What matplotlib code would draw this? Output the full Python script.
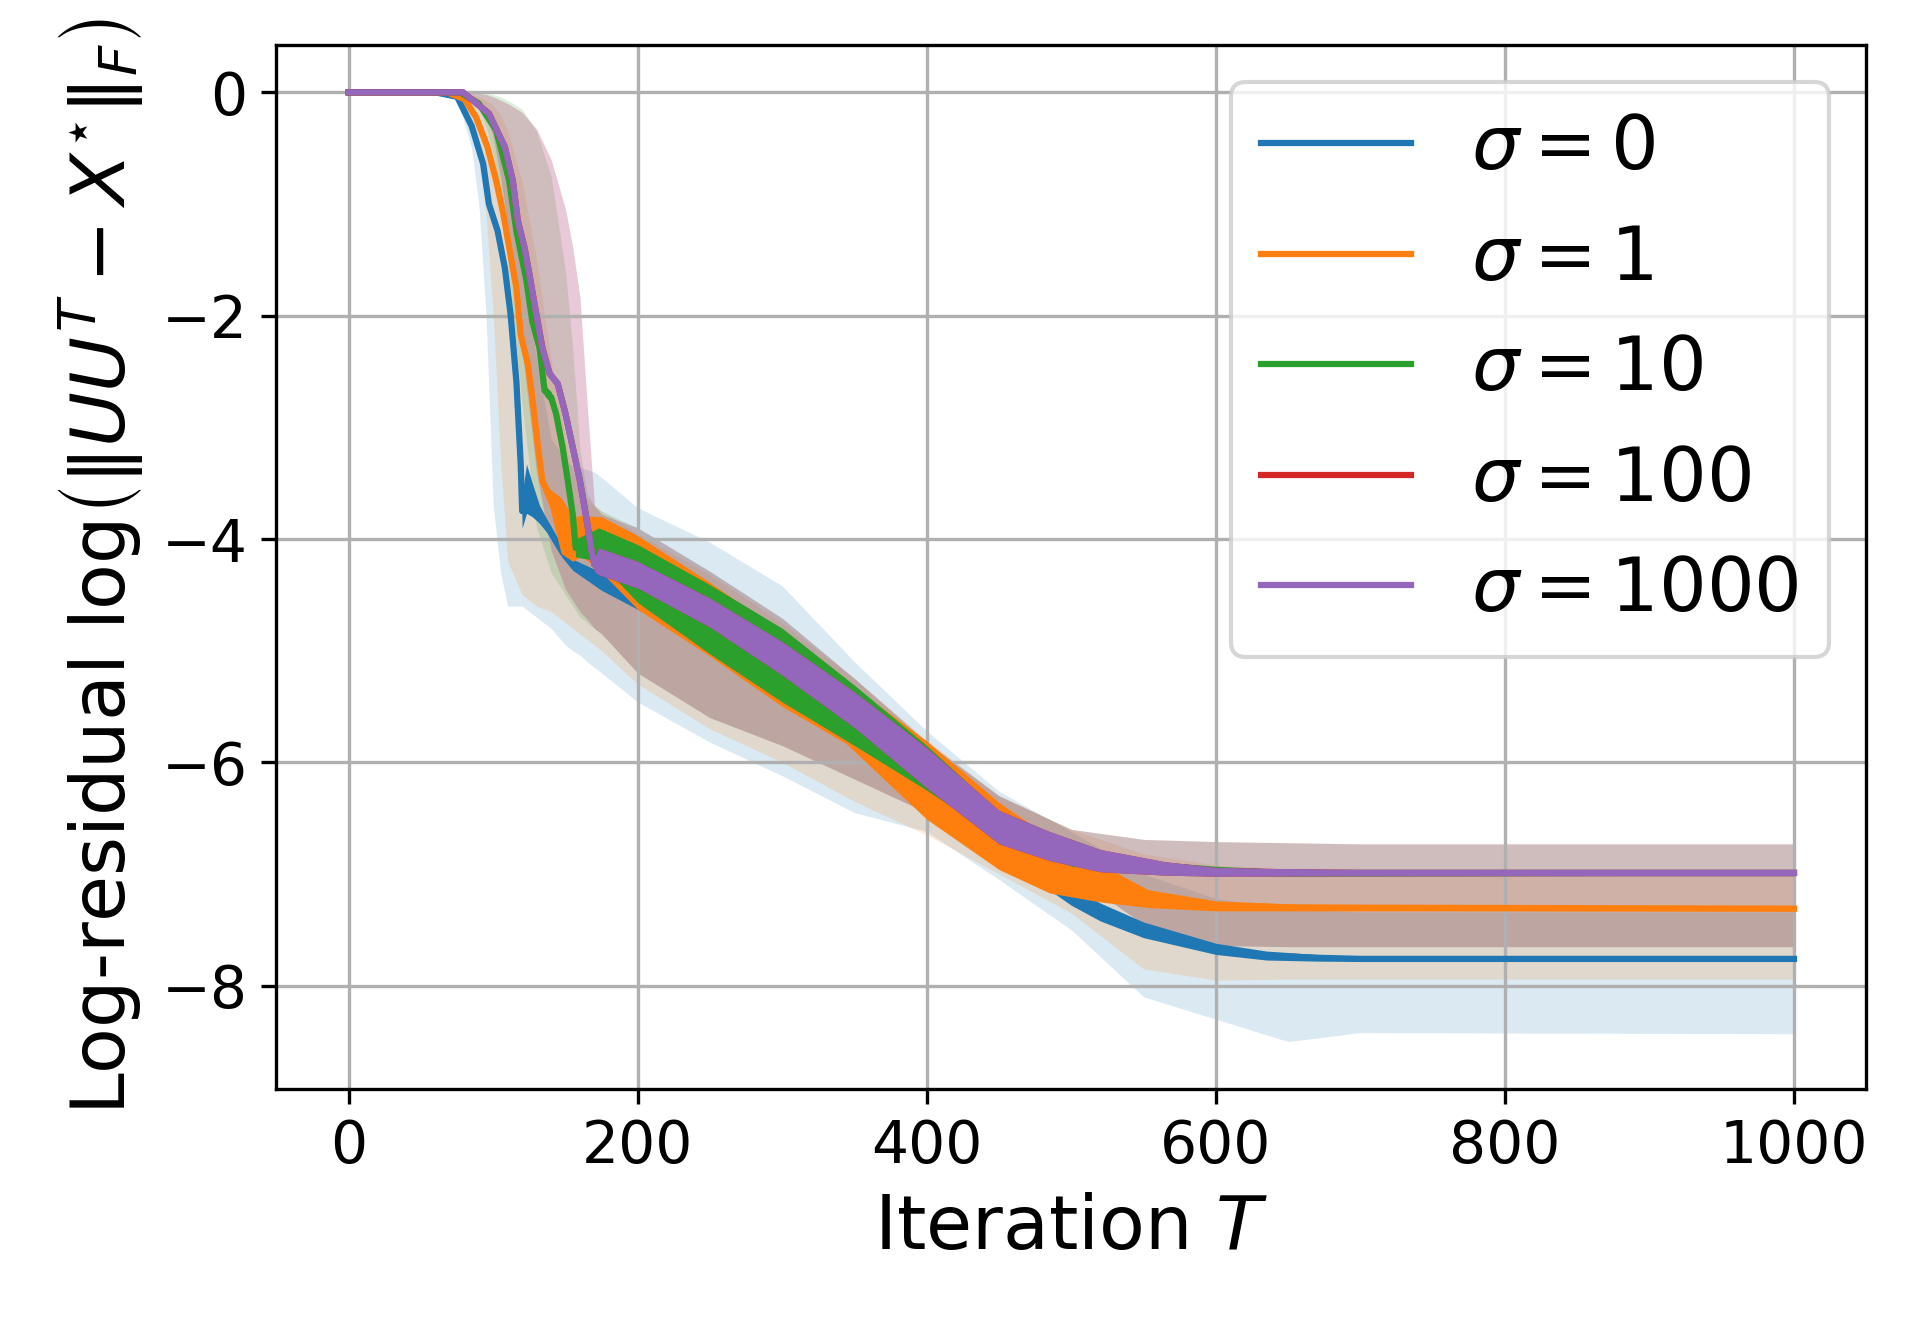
import numpy as np
import matplotlib
matplotlib.use("Agg")
import matplotlib.pyplot as plt

# ---- data ---------------------------------------------------------------
labels = [r"$\sigma = 0$", r"$\sigma = 1$", r"$\sigma = 10$", r"$\sigma = 100$", r"$\sigma = 1000$"]
colors = ["tab:blue", "tab:orange", "tab:green", "tab:red", "tab:purple"]

# mean log-residual curves (key iterations) and the half width of their fast oscillation
t_s0 = [0, 60, 75, 85, 93, 97, 103, 108, 112, 116, 119, 120, 123, 127, 132, 137, 148, 155,
        175, 200, 250, 300, 350, 400, 450, 500, 520, 550, 600, 635, 670, 700, 1000]
mean_s0 = [0, 0, -0.04, -0.3, -0.64, -1.0, -1.24, -1.57, -1.99, -2.59, -3.33, -3.75, -3.55, -3.65,
           -3.78, -3.88, -4.12, -4.23, -4.38, -4.5, -4.8, -5.2, -5.65, -6.18, -6.7, -7.2, -7.34,
           -7.5, -7.67, -7.73, -7.75, -7.76, -7.76]
osc_s0 = [0, 0, 0, 0.02, 0.03, 0.04, 0.05, 0.05, 0.05, 0.05, 0.05, 0.15, 0.22, 0.15, 0.08, 0.06,
          0.05, 0.05, 0.08, 0.13, 0.15, 0.15, 0.15, 0.15, 0.13, 0.08, 0.08, 0.07, 0.05, 0.04, 0.03,
          0.02, 0.02]

t_s1 = [0, 68, 80, 88, 96, 102, 107, 111, 116, 119, 124, 127, 131, 134, 139, 147, 155, 161, 175,
        200, 250, 300, 344, 400, 450, 485, 520, 553, 600, 657, 1000]
mean_s1 = [0, 0, -0.06, -0.22, -0.49, -0.79, -1.09, -1.39, -1.75, -2.17, -2.44, -2.73, -3.18, -3.48,
           -3.63, -3.88, -4.0, -3.97, -4.05, -4.3, -4.72, -5.17, -5.55, -6.16, -6.66, -6.92, -7.08,
           -7.22, -7.285, -7.3, -7.31]
osc_s1 = [0, 0, 0.02, 0.03, 0.04, 0.05, 0.08, 0.05, 0.05, 0.05, 0.05, 0.05, 0.05, 0.05, 0.08, 0.25,
          0.2, 0.18, 0.25, 0.33, 0.33, 0.33, 0.28, 0.35, 0.3, 0.25, 0.17, 0.08, 0.045, 0.03, 0.02]

t_s10 = [0, 77, 90, 102, 111, 116, 123, 127, 132, 135.5, 140, 143.5, 148, 151.6, 155, 157, 173,
         200, 250, 300, 350, 400, 450, 500, 550, 600, 650, 1000]
mean_s10 = [0, 0, -0.1, -0.34, -0.79, -1.24, -1.69, -2.05, -2.29, -2.67, -2.73, -2.88, -3.18, -3.48,
            -3.78, -4.08, -4.05, -4.31, -4.72, -5.13, -5.58, -6.05, -6.56, -6.85, -6.93, -6.97,
            -6.99, -6.99]
osc_s10 = [0, 0, 0.02, 0.03, 0.04, 0.04, 0.04, 0.04, 0.04, 0.05, 0.05, 0.04, 0.04, 0.04, 0.04,
           0.08, 0.15, 0.26, 0.31, 0.33, 0.27, 0.2, 0.12, 0.08, 0.05, 0.04, 0.03, 0.02]

t_s1000 = [0, 79, 97, 108, 113.5, 117, 121.6, 125, 129, 134, 139, 144.6, 150, 155, 160, 164, 167.7,
           170, 173, 200, 250, 300, 350, 400, 450, 485, 520, 565, 600, 700, 1000]
mean_s1000 = [0, 0, -0.19, -0.49, -0.79, -1.15, -1.39, -1.63, -1.93, -2.29, -2.52, -2.61, -2.88,
              -3.18, -3.48, -3.78, -4.08, -4.23, -4.2, -4.32, -4.66, -5.07, -5.53, -6.05, -6.58,
              -6.75, -6.88, -6.95, -6.98, -6.99, -6.99]
osc_s1000 = [0, 0, 0.02, 0.03, 0.03, 0.03, 0.03, 0.03, 0.03, 0.03, 0.03, 0.04, 0.04, 0.04, 0.04,
             0.04, 0.04, 0.06, 0.12, 0.12, 0.13, 0.15, 0.16, 0.18, 0.15, 0.13, 0.1, 0.06, 0.04,
             0.025, 0.025]

# sigma = 100 lies exactly under sigma = 1000 in the figure
t_s100, mean_s100, osc_s100 = t_s1000, mean_s1000, osc_s1000

# shaded spread around each curve
t_band = [0, 60, 75, 85, 90, 95, 100, 105, 110, 120, 130, 140, 150, 155, 160, 165, 170, 175,
          200, 250, 300, 350, 400, 450, 500, 550, 600, 650, 700, 1000]
lo_s0 = [0, 0, -0.05, -0.5, -1.0, -2.0, -3.7, -4.3, -4.6, -4.6, -4.7, -4.8, -4.95, -5.0, -5.04,
         -5.1, -5.15, -5.2, -5.46, -5.82, -6.12, -6.45, -6.62, -7.05, -7.5, -8.1, -8.3, -8.5,
         -8.42, -8.43]
hi_s0 = [0, 0, 0, -0.05, -0.1, -0.2, -0.35, -0.55, -0.8, -1.5, -2.4, -3.1, -3.3, -3.35, -3.36,
         -3.38, -3.4, -3.45, -3.72, -4.03, -4.42, -5.1, -5.72, -6.26, -6.62, -7.0, -7.22, -7.31,
         -7.34, -7.34]
lo_s1 = [0, 0, -0.03, -0.3, -0.6, -1.1, -2.0, -3.3, -4.2, -4.5, -4.6, -4.65, -4.75, -4.8, -4.85,
         -4.9, -4.95, -5.0, -5.3, -5.7, -6.0, -6.35, -6.65, -7.0, -7.35, -7.85, -7.95, -7.94,
         -7.94, -7.94]
hi_s1 = [0, 0, 0, -0.02, -0.04, -0.07, -0.12, -0.2, -0.35, -0.8, -1.5, -2.4, -3.1, -3.4, -3.55,
         -3.65, -3.7, -3.75, -3.95, -4.32, -4.75, -5.25, -5.8, -6.3, -6.6, -6.82, -6.92, -6.95,
         -6.96, -6.96]
lo_s10 = [0, 0, -0.01, -0.08, -0.15, -0.3, -0.55, -0.95, -1.5, -2.8, -3.9, -4.3, -4.5, -4.6, -4.7,
          -4.75, -4.8, -4.85, -5.2, -5.6, -5.85, -6.15, -6.45, -6.75, -7.0, -7.45, -7.64, -7.65,
          -7.65, -7.65]
hi_s10 = [0, 0, 0, 0, 0, -0.01, -0.02, -0.04, -0.07, -0.15, -0.35, -0.75, -1.6, -2.3, -3.2, -3.6,
          -3.7, -3.75, -3.9, -4.29, -4.71, -5.25, -5.82, -6.3, -6.6, -6.69, -6.71, -6.72, -6.73,
          -6.73]
lo_s1000 = [0, 0, 0, -0.03, -0.08, -0.2, -0.4, -0.75, -1.2, -2.3, -3.4, -4.1, -4.45, -4.55, -4.65,
            -4.72, -4.8, -4.85, -5.2, -5.6, -5.85, -6.15, -6.45, -6.72, -7.0, -7.45, -7.64, -7.65,
            -7.65, -7.65]
hi_s1000 = [0, 0, 0, 0, -0.01, -0.02, -0.04, -0.07, -0.1, -0.18, -0.33, -0.6, -1.05, -1.39, -1.84,
            -2.8, -3.7, -3.78, -3.9, -4.29, -4.71, -5.25, -5.82, -6.3, -6.6, -6.69, -6.71, -6.72,
            -6.73, -6.73]
lo_s100, hi_s100 = lo_s1000, hi_s1000

curves = [
    (t_s0, mean_s0, osc_s0, lo_s0, hi_s0),
    (t_s1, mean_s1, osc_s1, lo_s1, hi_s1),
    (t_s10, mean_s10, osc_s10, lo_s10, hi_s10),
    (t_s100, mean_s100, osc_s100, lo_s100, hi_s100),
    (t_s1000, mean_s1000, osc_s1000, lo_s1000, hi_s1000),
]

# ---- plot ------------------------------------------------------------------
fig, ax = plt.subplots(figsize=(6.4, 4.4), dpi=300)
fig.subplots_adjust(left=0.144, right=0.972, top=0.966, bottom=0.175)

# shaded spreads first, so that every curve sits on top of them
for (t, mean, osc, lo, hi), color in zip(curves, colors):
    ax.fill_between(t_band, lo, hi, color=color, alpha=0.16, linewidth=0)

for (t, mean, osc, lo, hi), color, label in zip(curves, colors, labels):
    mean = np.array(mean)
    osc = np.array(osc)
    ax.fill_between(t, mean - osc, mean + osc, color=color, linewidth=0, zorder=2)
    ax.plot(t, mean, color=color, linewidth=1.5, label=label)

ax.set_xlabel(r"Iteration $T$", fontsize=18)
ax.set_ylabel(r"Log-residual $\mathrm{log}\left(\|UU^T - X^{\star}\|_F\right)$", fontsize=18)
ax.tick_params(labelsize=14)
ax.grid(True)
ax.legend(loc="upper right", fontsize=18)

fig.savefig("out.png", dpi=300)
